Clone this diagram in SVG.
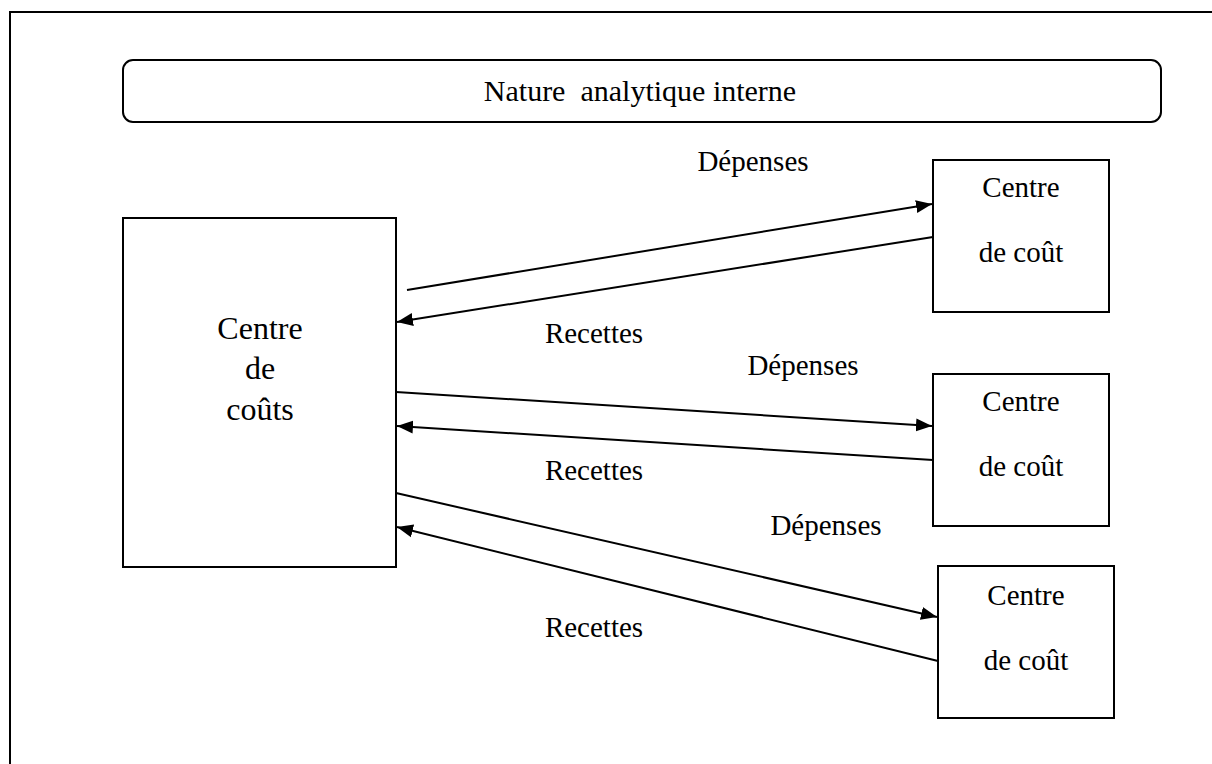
<svg xmlns="http://www.w3.org/2000/svg" width="1212" height="764" viewBox="0 0 1212 764">
<style>
.box{fill:#fff;stroke:#000;stroke-width:2}
.t{font-family:"Liberation Serif","Times New Roman",serif;fill:#000;text-anchor:middle}
.big{font-size:32px}
.sm{font-size:29px}
.lab{font-size:29px}
.ttl{font-size:30px;white-space:pre}
.c{fill:none;stroke:#000;stroke-width:2}
</style>
<defs>
<marker id="ah" markerUnits="userSpaceOnUse" markerWidth="18" markerHeight="14" refX="16" refY="7" orient="auto">
<path d="M0,0.5 L16,7 L0,13.5 Z" fill="#000"/>
</marker>
</defs>
<rect width="1212" height="764" fill="#fff"/>
<path d="M10,764 V12 H1212" fill="none" stroke="#000" stroke-width="2"/>
<g id="title">
<rect class="box" x="123" y="60" width="1038" height="62" rx="10"/>
<text class="t ttl" x="640" y="101" xml:space="preserve" font-family="Liberation Serif, serif">Nature  analytique interne</text>
</g>
<g id="main">
<rect class="box" x="123" y="218" width="273" height="349"/>
<text class="t big" x="260" y="339">Centre</text>
<text class="t big" x="260" y="379">de</text>
<text class="t big" x="260" y="420">coûts</text>
</g>
<g id="c1">
<rect class="box" x="933" y="160" width="176" height="152"/>
<text class="t sm" x="1021" y="197">Centre</text>
<text class="t sm" x="1021" y="262">de coût</text>
</g>
<g id="c2">
<rect class="box" x="933" y="374" width="176" height="152"/>
<text class="t sm" x="1021" y="411">Centre</text>
<text class="t sm" x="1021" y="476">de coût</text>
</g>
<g id="c3">
<rect class="box" x="938" y="566" width="176" height="152"/>
<text class="t sm" x="1026" y="605">Centre</text>
<text class="t sm" x="1026" y="670">de coût</text>
</g>
<g id="connectors">
<line class="c" x1="407" y1="290" x2="932" y2="204" marker-end="url(#ah)"/>
<line class="c" x1="933" y1="237" x2="397" y2="322" marker-end="url(#ah)"/>
<line class="c" x1="396" y1="392" x2="932" y2="426" marker-end="url(#ah)"/>
<line class="c" x1="933" y1="460" x2="397" y2="426" marker-end="url(#ah)"/>
<line class="c" x1="396" y1="493" x2="937" y2="617" marker-end="url(#ah)"/>
<line class="c" x1="938" y1="661" x2="397" y2="527" marker-end="url(#ah)"/>
</g>
<g id="labels">
<text class="t lab" x="753" y="171">Dépenses</text>
<text class="t lab" x="594" y="343">Recettes</text>
<text class="t lab" x="803" y="375">Dépenses</text>
<text class="t lab" x="594" y="480">Recettes</text>
<text class="t lab" x="826" y="535">Dépenses</text>
<text class="t lab" x="594" y="637">Recettes</text>
</g>
</svg>
